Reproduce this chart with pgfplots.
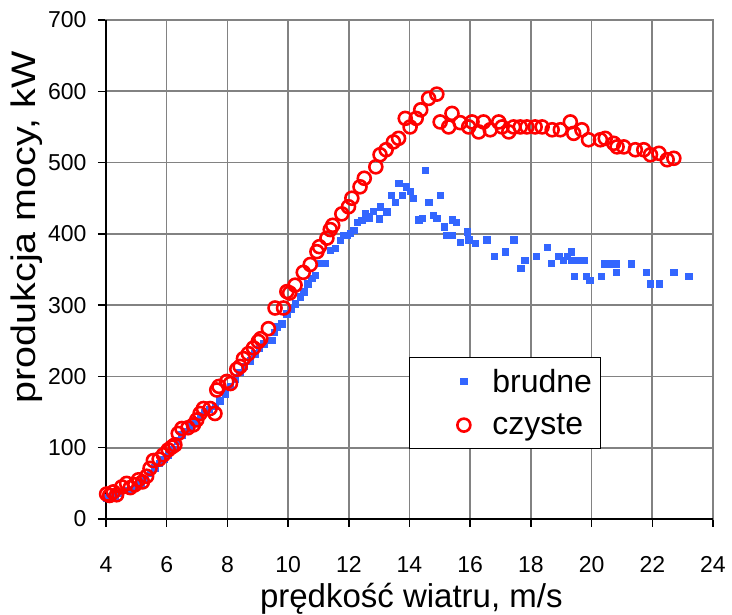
\documentclass[border=0pt]{standalone}
\usepackage{pgfplots}
\pgfplotsset{compat=1.18}
\usepackage{fontspec}
\setmainfont{Liberation Sans}
\definecolor{bblue}{RGB}{51,102,255}
\definecolor{rred}{RGB}{255,0,0}
\definecolor{gridc}{RGB}{130,130,130}
\begin{document}
\begin{tikzpicture}
\begin{axis}[
  scale only axis, width=607pt, height=499pt,
  xmin=4, xmax=24, ymin=0, ymax=700,
  xtick={4,6,...,24}, ytick={0,100,...,700},
  xtick pos=bottom, ytick pos=left,
  axis line style={draw=gridc, line width=1.6pt},
  tick align=outside, major tick length=8pt,
  major tick style={black, line width=1.5pt},
  grid=major,
  grid style={gridc, line width=1.6pt},
  /pgf/number format/assume math mode=true,
  xticklabel style={font=\fontsize{23}{27}\selectfont, yshift=-26pt},
  yticklabel style={font=\fontsize{23}{27}\selectfont, xshift=-8pt},
  xlabel={prędkość wiatru, m/s},
  ylabel={\scalebox{1.16}[1]{produkcja mocy, kW}},
  xlabel style={font=\fontsize{33}{37}\selectfont, at={(axis description cs:0.503,-0.16)}, anchor=center},
  ylabel style={font=\fontsize{34}{38}\selectfont, at={(axis description cs:-0.13,0.585)}, anchor=center},
  clip=false,
  legend cell align=left,
  legend style={at={(0.499,0.325)}, anchor=north west, draw=black, line width=1pt,
    fill=white, font=\fontsize{32}{36}\selectfont, inner xsep=6pt, inner ysep=10pt,
    row sep=16pt},
  legend image code/.code={\path (0pt,0pt) (74pt,0pt); \draw plot coordinates {(48pt,0pt)};},
]
\addplot[only marks, mark=square*, mark size=3.2pt, color=bblue, mark options={draw=none, fill=bblue}] coordinates {
(4.0,30)(4.15,31)(4.3,32)(4.45,36)(4.6,40)(4.8,42)(5.0,46)(5.15,50)(5.3,56)(5.45,64)
(5.6,72)(5.75,78)(5.9,84)(6.05,90)(6.2,98)(6.35,110)(6.5,118)(6.65,123)(6.8,130)(6.95,138)
(7.1,145)(7.25,150)(7.4,154)(7.59,158)(7.75,166)(7.92,176)(8.1,186)(8.25,196)(8.4,206)(8.55,214)
(8.75,222)(8.9,232)(9.05,240)(9.2,246)(9.46,251)(9.55,262)(9.65,270)(9.79,274)(9.96,288)(10.1,295)
(10.23,302)(10.4,312)(10.51,319)(10.65,330)(10.78,338)(10.89,342)(11.06,359)(11.22,359)(11.39,377)(11.55,380)
(11.71,391)(11.82,398)(11.94,398)(12.04,401)(12.16,405)(12.27,416)(12.43,419)(12.54,428)(12.60,424)(12.68,422)
(12.81,432)(13.01,421)(13.03,438)(13.25,431)(13.39,454)(13.53,444)(13.64,471)(13.75,454)(13.90,466)(14.02,460)
(14.13,450)(14.30,420)(14.41,422)(14.52,489)(14.63,444)(14.79,426)(14.90,422)(15.01,454)(15.14,410)(15.23,398)
(15.40,398)(15.40,420)(15.54,416)(15.67,388)(15.90,403)(15.95,392)(16.17,387)(16.55,392)(16.79,369)(17.16,375)
(17.43,392)(17.67,352)(17.79,363)(18.17,369)(18.53,381)(18.67,359)(18.91,369)(19.06,363)(19.19,369)(19.32,375)
(19.32,363)(19.43,341)(19.57,363)(19.74,363)(19.82,341)(19.94,335)(20.32,341)(20.43,358)(20.62,358)(20.82,358)
(20.82,346)(21.31,358)(21.80,346)(21.94,330)(22.22,330)(22.71,346)(23.20,341)
};
\addlegendentry{brudne}
\addplot[only marks, mark=o, mark size=6.5pt, color=rred, mark options={line width=2.6pt, draw=rred, fill=none}] coordinates {
(4.02,35)(4.12,33)(4.24,38)(4.35,34)(4.52,45)(4.68,50)(4.80,44)(4.95,48)(5.07,55)(5.20,52)
(5.34,60)(5.45,71)(5.56,82)(5.75,84)(5.89,90)(6.05,97)(6.17,101)(6.27,104)(6.38,120)(6.50,127)
(6.70,128)(6.88,132)(6.99,139)(7.10,148)(7.21,155)(7.43,155)(7.59,148)(7.65,181)(7.72,186)(7.98,193)
(8.10,190)(8.31,210)(8.42,214)(8.53,225)(8.69,232)(8.86,240)(9.02,249)(9.10,253)(9.35,267)(9.57,296)
(9.85,296)(9.96,319)(10.05,317)(10.23,328)(10.50,346)(10.73,357)(10.95,375)(11.03,382)(11.28,394)(11.39,406)
(11.47,412)(11.77,428)(11.99,438)(12.10,450)(12.37,466)(12.51,478)(12.89,494)(13.03,511)(13.23,518)(13.47,529)
(13.64,534)(13.86,562)(14.02,550)(14.22,562)(14.37,574)(14.63,590)(14.90,596)(15.01,557)(15.29,550)(15.40,569)
(15.67,556)(15.95,550)(16.06,557)(16.28,543)(16.44,557)(16.66,546)(16.94,557)(17.05,550)(17.27,543)(17.43,550)
(17.65,550)(17.87,550)(18.14,550)(18.37,550)(18.70,546)(18.97,546)(19.30,557)(19.41,541)(19.68,546)(19.90,532)
(20.29,532)(20.45,534)(20.73,527)(20.84,522)(21.06,522)(21.44,518)(21.72,518)(21.94,511)(22.22,513)(22.49,504)
(22.71,506)
};
\addlegendentry{czyste}
\draw[black, line width=2pt] (rel axis cs:0,1) -- (rel axis cs:0,0) -- (rel axis cs:1,0);
\end{axis}
\pgfresetboundingbox
\path (current axis.south west) ++(-106pt,-96pt) rectangle ++(732pt,615pt);
\end{tikzpicture}
\end{document}
